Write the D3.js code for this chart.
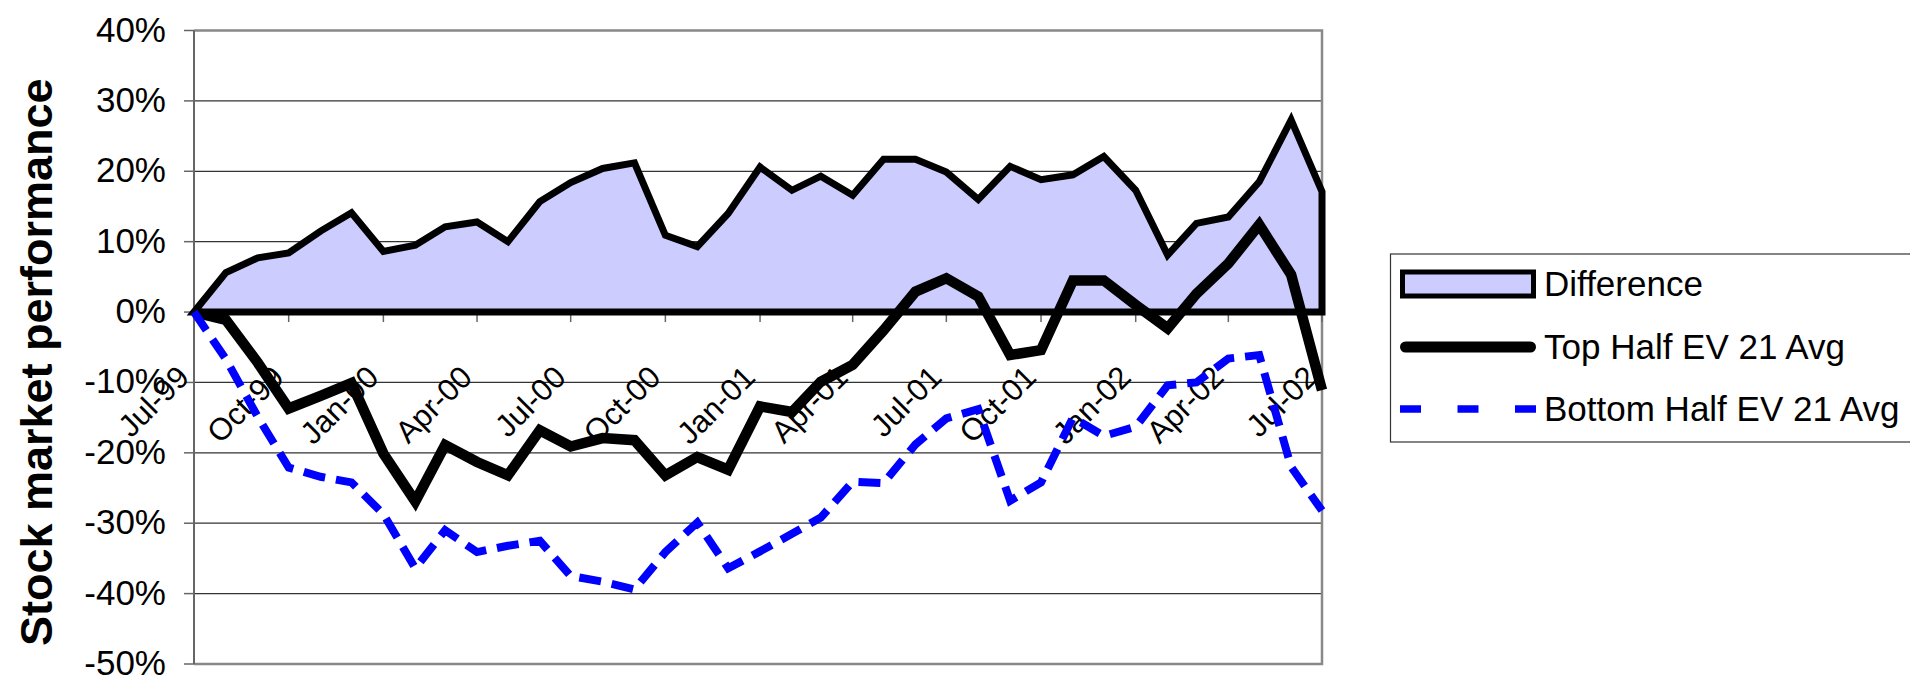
<!DOCTYPE html>
<html>
<head>
<meta charset="utf-8">
<script src="https://cdn.jsdelivr.net/npm/d3@7"></script>
<style>
  html, body { margin: 0; padding: 0; background: #fff; }
  svg { display: block; font-family: "Liberation Sans", Arial, Helvetica, sans-serif; }
</style>
</head>
<body>
<svg id="chart" width="1910" height="676"></svg>
<script>
// Monthly observations, Jul-99 .. Jul-02 (percent)
const months = [
  "1999-07","1999-08","1999-09","1999-10","1999-11","1999-12",
  "2000-01","2000-02","2000-03","2000-04","2000-05","2000-06",
  "2000-07","2000-08","2000-09","2000-10","2000-11","2000-12",
  "2001-01","2001-02","2001-03","2001-04","2001-05","2001-06",
  "2001-07","2001-08","2001-09","2001-10","2001-11","2001-12",
  "2002-01","2002-02","2002-03","2002-04","2002-05","2002-06",
  "2002-07"
];

const difference = [
  0, 5.6, 7.7, 8.4, 11.5, 14.1,
  8.6, 9.5, 12.1, 12.8, 10.0, 15.7,
  18.4, 20.4, 21.2, 10.9, 9.3, 14.0,
  20.6, 17.3, 19.3, 16.6, 21.7, 21.7,
  19.9, 16.0, 20.7, 18.8, 19.5, 22.1,
  17.3, 8.1, 12.6, 13.5, 18.5, 27.3,
  17.1
];

const topHalf = [
  0, -1.1, -7.2, -13.7, -11.9, -10.1,
  -20.1, -26.9, -18.9, -21.3, -23.2, -16.8,
  -19.1, -17.9, -18.2, -23.2, -20.6, -22.4,
  -13.4, -14.2, -9.9, -7.5, -2.6, 2.9,
  4.8, 2.2, -6.1, -5.4, 4.5, 4.5,
  1.0, -2.3, 2.6, 6.9, 12.4, 5.3,
  -11.1
];

const bottomHalf = [
  0, -6.7, -14.9, -22.1, -23.4, -24.2,
  -28.7, -36.4, -31.0, -34.1, -33.2, -32.5,
  -37.5, -38.3, -39.4, -34.1, -29.9, -36.4,
  -34.0, -31.5, -29.2, -24.1, -24.3, -18.8,
  -15.1, -13.8, -26.8, -24.2, -15.0, -17.6,
  -16.3, -10.4, -10.0, -6.6, -6.1, -22.0,
  -28.2
];

const yTicks = [40, 30, 20, 10, 0, -10, -20, -30, -40, -50];
const seriesNames = ["Difference", "Top Half EV 21 Avg", "Bottom Half EV 21 Avg"];
const yTitle = "Stock market performance";

// ---- layout ----
const plot = { left: 194, right: 1322, top: 30.5, bottom: 664 };
const svg = d3.select("#chart");

const parseMonth = d3.utcParse("%Y-%m");
const dates = months.map(parseMonth);

const x = d3.scaleUtc().domain(d3.extent(dates)).range([plot.left, plot.right]);
const y = d3.scaleLinear().domain([-50, 40]).range([plot.bottom, plot.top]);

const rows = dates.map((d, i) => ({
  date: d, diff: difference[i], top: topHalf[i], bottom: bottomHalf[i]
}));

// ---- gridlines ----
svg.append("g")
  .selectAll("line")
  .data(yTicks.filter(v => v !== 40 && v !== -50))
  .join("line")
  .attr("x1", plot.left).attr("x2", plot.right)
  .attr("y1", d => y(d)).attr("y2", d => y(d))
  .attr("stroke", "#333").attr("stroke-width", 1.2);

// plot frame (top, right, bottom in grey)
svg.append("path")
  .attr("d", `M${plot.left},${y(40)}H${plot.right}V${y(-50)}H${plot.left}`)
  .attr("fill", "none").attr("stroke", "#888").attr("stroke-width", 2.5);

// ---- y axis ----
const yAxis = svg.append("g");
yAxis.append("line")
  .attr("x1", plot.left).attr("x2", plot.left)
  .attr("y1", y(40)).attr("y2", y(-50))
  .attr("stroke", "#666").attr("stroke-width", 2);
yAxis.selectAll("line.tick")
  .data(yTicks).join("line").attr("class", "tick")
  .attr("x1", plot.left - 10).attr("x2", plot.left)
  .attr("y1", d => y(d)).attr("y2", d => y(d))
  .attr("stroke", "#666").attr("stroke-width", 1.5);
yAxis.selectAll("text")
  .data(yTicks).join("text")
  .attr("x", 166).attr("y", d => y(d) + 11)
  .attr("text-anchor", "end")
  .attr("font-size", 35)
  .attr("fill", "#000")
  .text(d => d + "%");

svg.append("text")
  .attr("transform", `translate(52,${(plot.top + plot.bottom) / 2 + 15}) rotate(-90)`)
  .attr("text-anchor", "middle")
  .attr("font-size", 45)
  .attr("font-weight", "bold")
  .text(yTitle);

// ---- x axis (crosses at 0%) ----
const xTicks = x.ticks(d3.utcMonth.every(3));
const fmt = d3.utcFormat("%b-%y");
const xAxis = svg.append("g");
xAxis.selectAll("line")
  .data(xTicks).join("line")
  .attr("x1", d => x(d)).attr("x2", d => x(d))
  .attr("y1", y(0)).attr("y2", y(0) + 10)
  .attr("stroke", "#666").attr("stroke-width", 1.5);
xAxis.selectAll("text")
  .data(xTicks).join("text")
  .attr("transform", d => `translate(${x(d) - 3},${y(0) + 67}) rotate(-45)`)
  .attr("text-anchor", "end")
  .attr("font-size", 31)
  .attr("fill", "#000")
  .text(d => fmt(d));

// ---- Difference area ----
const area = d3.area()
  .x(d => x(d.date))
  .y0(y(0))
  .y1(d => y(d.diff));
svg.append("path")
  .datum(rows)
  .attr("d", area)
  .attr("fill", "#CCCCFF")
  .attr("stroke", "#000")
  .attr("stroke-width", 7)
  .attr("stroke-linejoin", "miter")
  .attr("stroke-miterlimit", 3);

// ---- Top half line ----
const lineTop = d3.line().x(d => x(d.date)).y(d => y(d.top));
svg.append("path")
  .datum(rows)
  .attr("d", lineTop)
  .attr("fill", "none")
  .attr("stroke", "#000")
  .attr("stroke-width", 10.5)
  .attr("stroke-linejoin", "miter")
  .attr("stroke-miterlimit", 3);

// ---- Bottom half line ----
const lineBottom = d3.line().x(d => x(d.date)).y(d => y(d.bottom));
svg.append("path")
  .datum(rows)
  .attr("d", lineBottom)
  .attr("fill", "none")
  .attr("stroke", "#0000FF")
  .attr("stroke-width", 8)
  .attr("stroke-dasharray", "22 11")
  .attr("stroke-linejoin", "miter");

// ---- legend ----
const legend = svg.append("g");
legend.append("rect")
  .attr("x", 1390.5).attr("y", 254)
  .attr("width", 540).attr("height", 188)
  .attr("fill", "#fff").attr("stroke", "#333").attr("stroke-width", 1.2);

const lx0 = 1400, lx1 = 1536, ltx = 1544;
const rowY = [284, 347, 409];

legend.append("rect")
  .attr("x", lx0 + 2.5).attr("y", rowY[0] - 12)
  .attr("width", lx1 - lx0 - 5).attr("height", 24)
  .attr("fill", "#CCCCFF").attr("stroke", "#000").attr("stroke-width", 5);

legend.append("line")
  .attr("x1", lx0 + 5.5).attr("x2", lx1 - 5.5)
  .attr("y1", rowY[1]).attr("y2", rowY[1])
  .attr("stroke", "#000").attr("stroke-width", 11)
  .attr("stroke-linecap", "round");

legend.append("line")
  .attr("x1", lx0).attr("x2", lx1)
  .attr("y1", rowY[2]).attr("y2", rowY[2])
  .attr("stroke", "#0000FF").attr("stroke-width", 7.5)
  .attr("stroke-dasharray", "21 36.5");

legend.selectAll("text")
  .data(seriesNames).join("text")
  .attr("x", ltx).attr("y", (d, i) => rowY[i] + 12)
  .attr("font-size", 35)
  .attr("fill", "#000")
  .text(d => d);
</script>
</body>
</html>
